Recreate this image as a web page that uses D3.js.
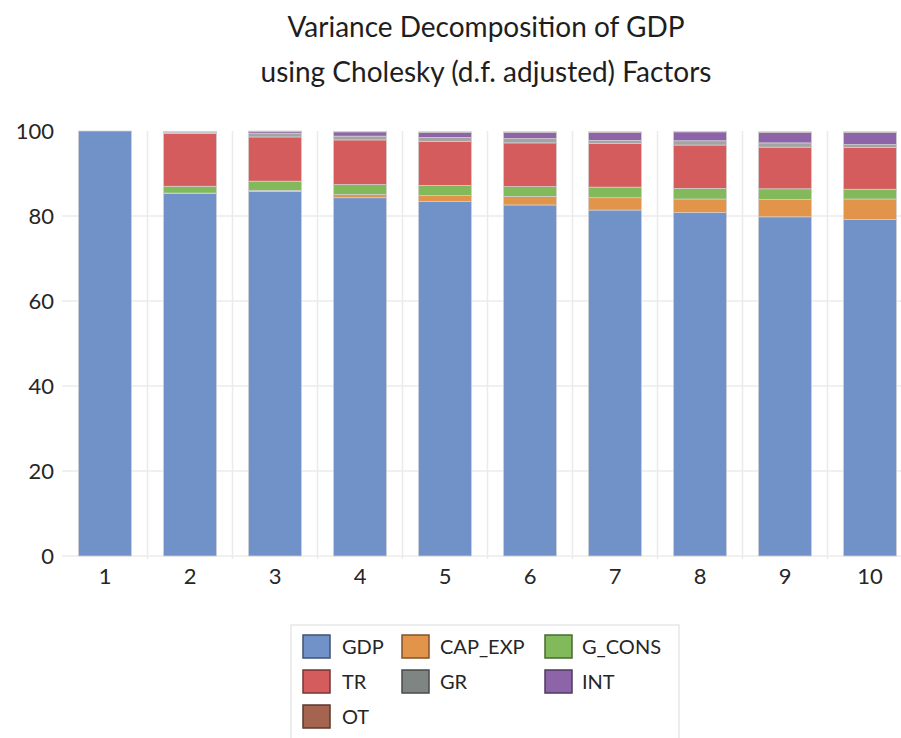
<!DOCTYPE html>
<html>
<head>
<meta charset="utf-8">
<script src="https://cdn.jsdelivr.net/npm/d3@7"></script>
<style>
  html, body { margin: 0; padding: 0; background: #fff; }
  svg { display: block; font-family: Lato, "Open Sans", sans-serif; }
</style>
</head>
<body>
<svg id="chart" width="901" height="738"></svg>
<script>
// Forecast horizons (periods)
const periods = ["1", "2", "3", "4", "5", "6", "7", "8", "9", "10"];

// Share of GDP forecast-error variance explained by each shock (%)
const GDP     = [100, 85.3, 85.8, 84.3, 83.4, 82.6, 81.4, 80.8, 79.8, 79.2];
const CAP_EXP = [0,   0.1,  0.2,  0.8,  1.4,  2.0,  2.9,  3.2,  4.1,  4.8];
const G_CONS  = [0,   1.6,  2.2,  2.3,  2.4,  2.3,  2.5,  2.5,  2.5,  2.3];
const TR      = [0,   12.4, 10.4, 10.5, 10.3, 10.3, 10.3, 10.2, 9.8,  9.8];
const GR      = [0,   0.3,  0.9,  0.9,  1.0,  1.0,  0.7,  1.0,  1.0,  0.7];
const INT     = [0,   0.1,  0.4,  1.0,  1.2,  1.5,  1.9,  2.1,  2.5,  2.9];
const OT      = [0,   0.1,  0.1,  0.1,  0.1,  0.1,  0.1,  0.1,  0.1,  0.1];

const seriesNames = ["GDP", "CAP_EXP", "G_CONS", "TR", "GR", "INT", "OT"];
const yTicks = [0, 20, 40, 60, 80, 100];

const seriesValues = { GDP, CAP_EXP, G_CONS, TR, GR, INT, OT };
const colors = {
  GDP: "#7092c9", CAP_EXP: "#e2944a", G_CONS: "#82b95a", TR: "#d45c5d",
  GR: "#a3a3a3", INT: "#8d64a8", OT: "#a5644f"
};
const legendColors = {
  GDP: "#7092c9", CAP_EXP: "#e2944a", G_CONS: "#82b95a", TR: "#d45c5d",
  GR: "#7f8583", INT: "#8d64a8", OT: "#a5644f"
};

const table = periods.map((p, i) => {
  const row = { period: p };
  seriesNames.forEach(s => row[s] = seriesValues[s][i]);
  return row;
});

const svg = d3.select("#chart");

const x = d3.scaleBand()
  .domain(periods)
  .range([62.5, 912.5])
  .paddingInner(0.376)
  .paddingOuter(0.188);

const y = d3.scaleLinear().domain([0, 100]).range([556, 131]);

// Title
const title = svg.append("g").attr("fill", "#1e1e1e").attr("text-anchor", "middle")
  .style("font-size", "28px");
title.append("text").attr("x", 486).attr("y", 37).text("Variance Decomposition of GDP");
title.append("text").attr("x", 486).attr("y", 82).text("using Cholesky (d.f. adjusted) Factors");

// Gridlines
const grid = svg.append("g").attr("stroke", "#ebebeb").attr("stroke-width", 1.5);
grid.selectAll("line.h")
  .data(yTicks.filter(t => t < 100))
  .join("line")
  .attr("x1", 62).attr("x2", 912.5)
  .attr("y1", d => y(d)).attr("y2", d => y(d));
const step = x.step();
grid.selectAll("line.v")
  .data(periods.slice(1))
  .join("line")
  .attr("x1", d => x(d) - step * x.paddingInner() / 2)
  .attr("x2", d => x(d) - step * x.paddingInner() / 2)
  .attr("y1", y(100)).attr("y2", y(0) + 3);

// Stacked bars
const stack = d3.stack().keys(seriesNames)(table);
svg.append("g").selectAll("g")
  .data(stack)
  .join("g")
  .attr("fill", d => colors[d.key])
  .selectAll("rect")
  .data(d => d)
  .join("rect")
  .attr("x", d => x(d.data.period))
  .attr("width", x.bandwidth())
  .attr("y", d => y(d[1]))
  .attr("height", d => Math.max(0, y(d[0]) - y(d[1])))
  .attr("stroke", "#d2d2d2")
  .attr("stroke-width", 0.7);

// Y axis labels
const yAxis = svg.append("g")
  .attr("transform", "translate(54,0)")
  .call(d3.axisLeft(y).tickValues(yTicks).tickSize(0).tickPadding(0));
yAxis.select(".domain").remove();
yAxis.selectAll("text")
  .attr("fill", "#262626")
  .style("font-size", "22px")
  .style("font-family", "Lato, 'Open Sans', sans-serif");

// X axis labels
const xAxis = svg.append("g")
  .attr("transform", "translate(0,568)")
  .call(d3.axisBottom(x).tickSize(0).tickPadding(0));
xAxis.select(".domain").remove();
xAxis.selectAll("text")
  .attr("fill", "#262626")
  .style("font-size", "22px")
  .style("font-family", "Lato, 'Open Sans', sans-serif");

// Legend
const legend = svg.append("g");
legend.append("rect")
  .attr("x", 291).attr("y", 625).attr("width", 388).attr("height", 130)
  .attr("fill", "none").attr("stroke", "#e2e2e2").attr("stroke-width", 1.2);
const colX = [303, 402, 545];
const textX = [342, 440, 582];
const rowY = [635, 670, 705];
const items = legend.selectAll("g.item")
  .data(seriesNames)
  .join("g")
  .attr("transform", (d, i) => `translate(${colX[i % 3]},${rowY[Math.floor(i / 3)]})`);
items.append("rect")
  .attr("width", 27).attr("height", 23)
  .attr("fill", d => legendColors[d])
  .attr("stroke", d => d3.color(legendColors[d]).darker(1.6))
  .attr("stroke-width", 1.5);
items.append("text")
  .attr("x", (d, i) => textX[i % 3] - colX[i % 3])
  .attr("y", 19)
  .attr("fill", "#262626")
  .style("font-size", "20px")
  .text(d => d);
</script>
</body>
</html>
